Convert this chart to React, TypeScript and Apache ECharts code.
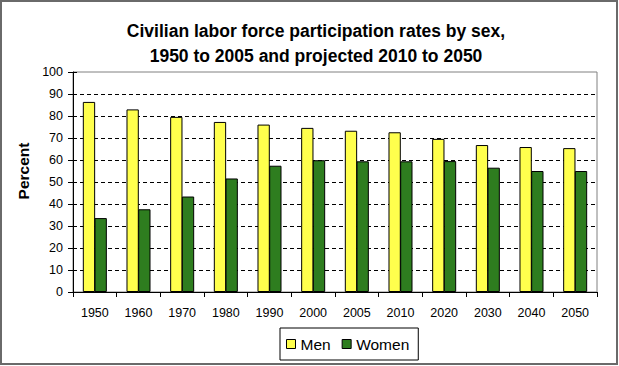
import React, { useEffect, useRef } from "react";
import * as echarts from "echarts";

const years = ["1950", "1960", "1970", "1980", "1990", "2000", "2005", "2010", "2020", "2030", "2040", "2050"];
const men = [86.4, 83.0, 79.6, 77.3, 76.1, 74.6, 73.3, 72.6, 69.6, 66.8, 65.9, 65.4];
const women = [33.6, 37.6, 43.4, 51.6, 57.4, 59.9, 59.4, 59.4, 59.5, 56.5, 55.0, 55.0];
const yTicks = [0, 10, 20, 30, 40, 50, 60, 70, 80, 90, 100];

const FONT = "'Liberation Sans', Arial, sans-serif";

export default function App() {
  const ref = useRef<HTMLDivElement>(null);
  useEffect(() => {
    if (!ref.current) return;
    const chart = echarts.init(ref.current, null, { renderer: "svg" });
    chart.setOption({
      animation: false,
      backgroundColor: "#ffffff",
      textStyle: { fontFamily: FONT },
      title: {
        text: "Civilian labor force participation rates by sex,\n1950 to 2005 and projected 2010 to 2050",
        left: 311,
        textAlign: "center",
        top: 13,
        textStyle: { fontFamily: FONT, fontSize: 17.5, fontWeight: "bold", color: "#000", lineHeight: 25 },
      },
      graphic: [
        {
          type: "rect",
          shape: { x: 1, y: 1, width: 616, height: 363 },
          style: { fill: "none", stroke: "#6a6a6a", lineWidth: 2 },
          silent: true,
          z: 100,
        },
        {
          type: "text",
          x: 23,
          y: 171,
          rotation: Math.PI / 2,
          style: {
            text: "Percent",
            fontFamily: FONT,
            fontSize: 15.5,
            fontWeight: "bold",
            fill: "#000",
            align: "center",
            verticalAlign: "middle",
          },
          silent: true,
        },
      ],
      legend: {
        left: 280,
        top: 328,
        orient: "horizontal",
        borderColor: "#000",
        borderWidth: 1,
        padding: [8, 9, 8, 6],
        itemWidth: 9,
        itemHeight: 9,
        itemGap: 11,
        icon: "rect",
        textStyle: { fontFamily: FONT, fontSize: 15.5, color: "#000" },
        itemStyle: { borderColor: "#000", borderWidth: 1 },
        data: ["Men", "Women"],
      },
      grid: {
        left: 73,
        right: 22,
        top: 72,
        bottom: 74,
        show: true,
        borderColor: "#808080",
        borderWidth: 1,
        backgroundColor: "transparent",
      },
      xAxis: {
        type: "category",
        data: years,
        axisLine: { lineStyle: { color: "#000", width: 1 } },
        axisTick: { show: true, alignWithLabel: false, length: 5, lineStyle: { color: "#000" } },
        axisLabel: { fontFamily: FONT, fontSize: 12.5, color: "#000", margin: 14 },
        splitLine: { show: false },
      },
      yAxis: [
        {
          type: "value",
          min: 0,
          max: 100,
          interval: 10,
          axisLine: { show: true, lineStyle: { color: "#000", width: 1 } },
          axisTick: { show: true, length: 5, lineStyle: { color: "#000" } },
          axisLabel: {
            fontFamily: FONT,
            fontSize: 12.5,
            color: "#000",
            margin: 10,
            formatter: (v: number) => (yTicks.includes(v) ? String(v) : ""),
          },
          splitLine: {
            show: true,
            showMinLine: false,
            showMaxLine: false,
            lineStyle: { color: "#000", type: [4, 3], width: 1 },
          },
        },
        {
          type: "value",
          min: 0,
          max: 100,
          interval: 10,
          position: "left",
          axisLine: { show: false },
          axisTick: { show: true, inside: true, length: 4, lineStyle: { color: "#000" } },
          axisLabel: { show: false },
          splitLine: { show: false },
        },
      ],
      series: [
        {
          name: "Men",
          type: "bar",
          data: men,
          barGap: "-5%",
          barCategoryGap: "45%",
          itemStyle: { color: "#ffff4d", borderColor: "#000", borderWidth: 1 },
        },
        {
          name: "Women",
          type: "bar",
          data: women,
          barGap: "-5%",
          barCategoryGap: "45%",
          itemStyle: { color: "#2e7d1f", borderColor: "#000", borderWidth: 1 },
        },
      ],
    });
    return () => chart.dispose();
  }, []);
  return <div ref={ref} style={{ position: "fixed", left: 0, top: 0, width: 619, height: 366 }} />;
}
